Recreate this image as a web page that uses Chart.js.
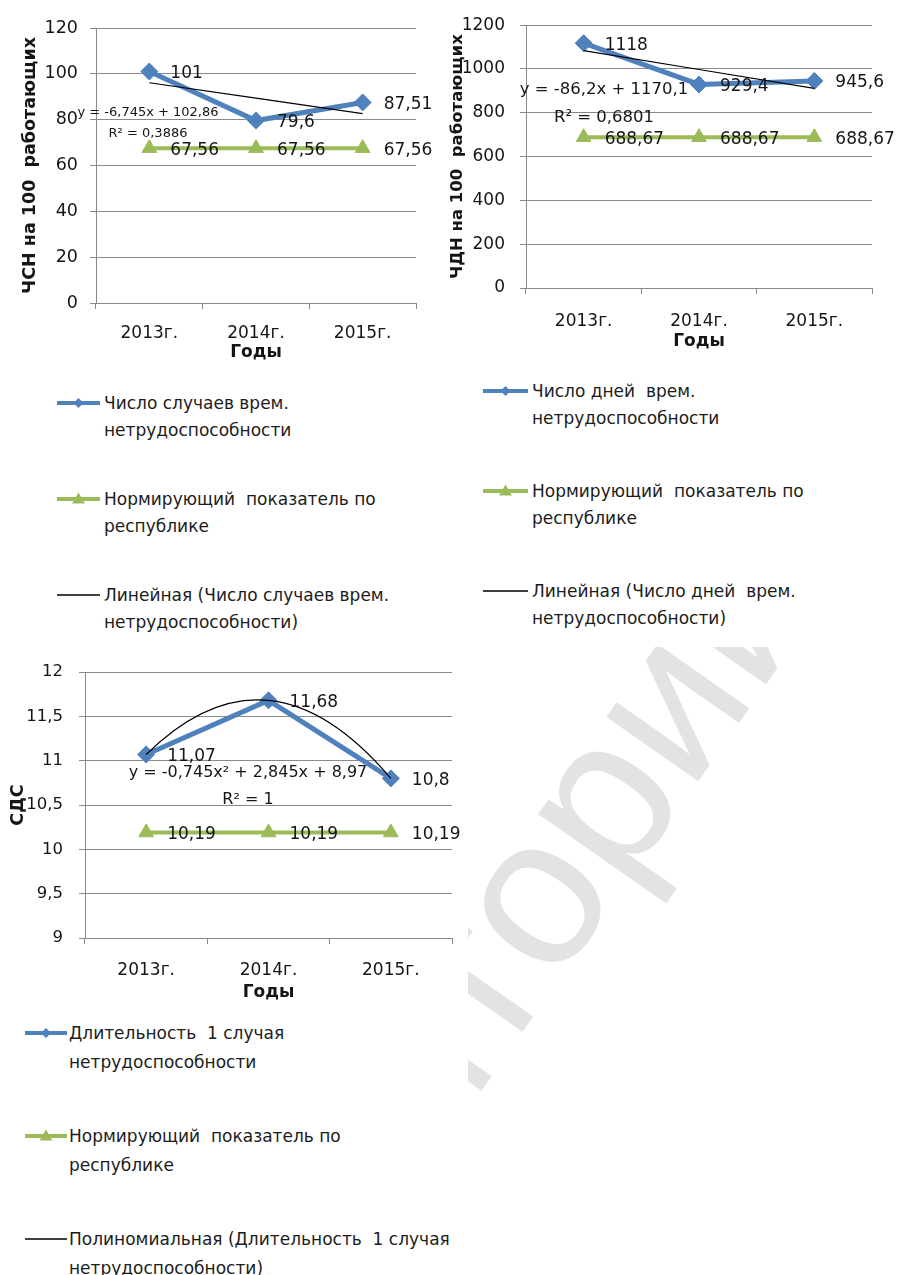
<!DOCTYPE html>
<html>
<head>
<meta charset="utf-8">
<script src="https://cdn.jsdelivr.net/npm/chart.js@4.4.1/dist/chart.umd.min.js"></script>
<style>
html,body{margin:0;padding:0;background:#fff;}
body{width:898px;height:1275px;position:relative;overflow:hidden;font-family:"DejaVu Sans",sans-serif;}
#wm{position:absolute;left:0;top:0;z-index:0;}
.box{position:absolute;background:#fff;z-index:1;}
.box canvas{position:absolute;left:0;top:0;}
.leg{position:absolute;font-size:17px;line-height:27px;color:#1c1c1c;white-space:pre;}
.sym{position:absolute;overflow:visible;}
</style>
</head>
<body>
<svg id="wm" width="898" height="1275"><text id="wmText" fill="#e3e3e3" font-family="Liberation Sans, Arial, sans-serif" font-size="212">Репозиторий</text></svg>

<div class="box" id="box1" style="left:0;top:0;width:440px;height:645px;"><canvas id="c1" width="440" height="370"></canvas></div>
<div class="box" id="box2" style="left:440px;top:0;width:458px;height:647px;"><canvas id="c2" width="458" height="360"></canvas></div>
<div class="box" id="box3" style="left:0;top:640px;width:468px;height:635px;"><canvas id="c3" width="468" height="370"></canvas></div>

<script>
// ---------------- DATA ----------------
const categories = ['2013г.', '2014г.', '2015г.'];

// Chart 1: ЧСН
const chsnCases = [101, 79.6, 87.51];
const chsnNorm = [67.56, 67.56, 67.56];
const chsnTrend = [96.115, 89.37, 82.625];
const chsnTicks = [0, 20, 40, 60, 80, 100, 120];
const chsnNames = [
  ['Число случаев врем.', 'нетрудоспособности'],
  ['Нормирующий  показатель по', 'республике'],
  ['Линейная (Число случаев врем.', 'нетрудоспособности)']
];
const chsnEquation = ['y = -6,745x + 102,86', 'R² = 0,3886'];

// Chart 2: ЧДН
const chdnDays = [1118, 929.4, 945.6];
const chdnNorm = [688.67, 688.67, 688.67];
const chdnTrend = [1083.9, 997.7, 911.5];
const chdnTicks = [0, 200, 400, 600, 800, 1000, 1200];
const chdnNames = [
  ['Число дней  врем.', 'нетрудоспособности'],
  ['Нормирующий  показатель по', 'республике'],
  ['Линейная (Число дней  врем.', 'нетрудоспособности)']
];
const chdnEquation = ['y = -86,2x + 1170,1', 'R² = 0,6801'];

// Chart 3: СДС
const sdsDuration = [11.07, 11.68, 10.8];
const sdsNorm = [10.19, 10.19, 10.19];
const sdsTrend = [11.07, 11.68, 10.8];
const sdsTicks = [9, 9.5, 10, 10.5, 11, 11.5, 12];
const sdsNames = [
  ['Длительность  1 случая', 'нетрудоспособности'],
  ['Нормирующий  показатель по', 'республике'],
  ['Полиномиальная (Длительность  1 случая', 'нетрудоспособности)']
];
const sdsEquation = ['y = -0,745x² + 2,845x + 8,97', 'R² = 1'];

// ---------------- STYLE ----------------
const BLUE = '#4F81BD';
const GREEN = '#9BBB59';
const GRID = '#8a8a8a';
const TEXT = '#151515';
const FAM = '"DejaVu Sans", sans-serif';
const fmt = v => String(v).replace('.', ',');

// value labels + trend equation text
const labelPlugin = {
  id: 'xlabels',
  afterDatasetsDraw(chart, args, opts) {
    const ctx = chart.ctx;
    ctx.save();
    ctx.fillStyle = TEXT;
    ctx.font = opts.font;
    ctx.textAlign = 'left';
    ctx.textBaseline = 'middle';
    chart.data.datasets.forEach((ds, i) => {
      if (!ds.valueLabels) return;
      const meta = chart.getDatasetMeta(i);
      meta.data.forEach((pt, j) => {
        ctx.fillText(fmt(ds.data[j]), pt.x + opts.dx, pt.y + opts.dy);
      });
    });
    const eq = opts.equation;
    ctx.font = eq.font;
    ctx.textAlign = 'center';
    eq.lines.forEach((t, k) => ctx.fillText(t, eq.x, eq.y + k * eq.gap));
    ctx.restore();
  }
};

// polynomial (2nd order) trendline: bezier control points of the parabola through the 3 points
const parabolaPlugin = {
  id: 'parabola',
  beforeDatasetsDraw(chart) {
    chart.data.datasets.forEach((ds, i) => {
      if (!ds.parabolic) return;
      const meta = chart.getDatasetMeta(i);
      const line = meta.dataset;
      line.updateControlPoints(chart.chartArea, 'x');
      const p = meta.data;
      if (p.length !== 3) return;
      const h = p[1].x - p[0].x;
      const y0 = p[0].y, y1 = p[1].y, y2 = p[2].y;
      const s = [(-3 * y0 + 4 * y1 - y2) / (2 * h), (y2 - y0) / (2 * h), (y0 - 4 * y1 + 3 * y2) / (2 * h)];
      p.forEach((pt, j) => {
        pt.cp1x = pt.x - h / 3; pt.cp1y = pt.y - s[j] * h / 3;
        pt.cp2x = pt.x + h / 3; pt.cp2y = pt.y + s[j] * h / 3;
      });
    });
  }
};

function makeChart(id, cfg) {
  const ds = [
    {label: cfg.names[0].join(' '), data: cfg.main, borderColor: BLUE, backgroundColor: BLUE,
     borderWidth: 5, pointStyle: 'rectRot', pointRadius: 8.5, pointBorderWidth: 1,
     pointBackgroundColor: BLUE, pointBorderColor: BLUE, tension: 0, order: 2, valueLabels: true},
    {label: cfg.names[1].join(' '), data: cfg.norm, borderColor: GREEN, backgroundColor: GREEN,
     borderWidth: 4, pointStyle: 'triangle', pointRadius: 8.5, pointBorderWidth: 1,
     pointBackgroundColor: GREEN, pointBorderColor: GREEN, tension: 0, order: 1, valueLabels: true},
    {label: cfg.names[2].join(' '), data: cfg.trend, borderColor: '#000', borderWidth: 1.2,
     pointRadius: 0, tension: cfg.parabolic ? 0.4 : 0, order: 0, parabolic: !!cfg.parabolic}
  ];
  return new Chart(document.getElementById(id), {
    type: 'line',
    data: {labels: categories, datasets: ds},
    plugins: [parabolaPlugin, labelPlugin],
    options: {
      responsive: false,
      animation: false,
      events: [],
      layout: {padding: {top: cfg.padTop, right: cfg.padRight, left: 0, bottom: 0}},
      plugins: {
        legend: {display: false},
        tooltip: {enabled: false},
        xlabels: {font: '17px ' + FAM, dx: 21, dy: 2, equation: cfg.equation}
      },
      scales: {
        x: {
          type: 'category', offset: true,
          grid: {offset: true, drawOnChartArea: false, drawTicks: true, tickLength: 6, color: GRID},
          border: {color: GRID, width: 1},
          ticks: {font: {family: FAM, size: 17}, color: TEXT, padding: cfg.xPad, maxRotation: 0, autoSkip: false},
          title: {display: true, text: 'Годы', color: TEXT,
                  font: {family: FAM, size: 17, weight: 'bold'}, padding: {top: 0, bottom: cfg.xTitlePad}},
          afterFit: s => { s.height = cfg.xHeight; }
        },
        y: {
          min: cfg.ticks[0], max: cfg.ticks[cfg.ticks.length - 1],
          afterBuildTicks: s => { s.ticks = cfg.ticks.map(v => ({value: v})); },
          grid: {color: GRID, drawTicks: true, tickLength: 6},
          border: {color: GRID, width: 1},
          ticks: {font: {family: FAM, size: cfg.yFont}, color: TEXT, padding: cfg.yPad, callback: v => fmt(v)},
          title: {display: true, text: cfg.yTitle, color: TEXT,
                  font: {family: FAM, size: cfg.yTitleSize, weight: 'bold'}, padding: {top: cfg.yTitlePad, bottom: 0}},
          afterFit: s => { s.width = cfg.yWidth; }
        }
      }
    }
  });
}

makeChart('c1', {
  main: chsnCases, norm: chsnNorm, trend: chsnTrend, ticks: chsnTicks, names: chsnNames,
  padTop: 28, padRight: 24, xHeight: 67, yWidth: 96, xPad: 14, yPad: 12, yFont: 17.5, xTitlePad: 7,
  yTitle: 'ЧСН на 100  работающих', yTitleSize: 17.5, yTitlePad: 19.5,
  equation: {lines: chsnEquation, x: 148, y: 113, gap: 21, font: '13px ' + FAM}
});
makeChart('c2', {
  main: chdnDays, norm: chdnNorm, trend: chdnTrend, ticks: chdnTicks, names: chdnNames,
  padTop: 22, padRight: 26, xHeight: 72, yWidth: 86, xPad: 17, yPad: 15, yFont: 17, xTitlePad: 8,
  yTitle: 'ЧДН на 100  работающих', yTitleSize: 16.5, yTitlePad: 8,
  equation: {lines: chdnEquation, x: 164, y: 90, gap: 28, font: '16.5px ' + FAM}
});
makeChart('c3', {
  main: sdsDuration, norm: sdsNorm, trend: sdsTrend, parabolic: true, ticks: sdsTicks, names: sdsNames,
  padTop: 32, padRight: 16, xHeight: 72, yWidth: 85, xPad: 16, yPad: 16, yFont: 16.5, xTitlePad: 7,
  yTitle: 'СДС', yTitleSize: 17.5, yTitlePad: 8,
  equation: {lines: sdsEquation, x: 248, y: 133, gap: 27, font: '16px ' + FAM}
});

// ---------------- LEGENDS (HTML) ----------------
function makeLegend(boxId, names, symX0, symX1, textX, centers, lh) {
  const box = document.getElementById(boxId);
  const kinds = ['diamond', 'triangle', 'line'];
  names.forEach((lines, i) => {
    const cy = centers[i];
    const d = document.createElement('div');
    d.className = 'leg';
    d.style.left = textX + 'px';
    d.style.top = (cy - lh / 2) + 'px';
    d.style.lineHeight = lh + 'px';
    d.textContent = lines.join('\n');
    box.appendChild(d);
    const ns = 'http://www.w3.org/2000/svg';
    const svg = document.createElementNS(ns, 'svg');
    svg.setAttribute('class', 'sym');
    svg.setAttribute('width', symX1 - symX0);
    svg.setAttribute('height', 20);
    svg.style.left = symX0 + 'px';
    svg.style.top = (cy - 10) + 'px';
    const w = symX1 - symX0, m = w / 2;
    const ln = document.createElementNS(ns, 'line');
    ln.setAttribute('x1', 0); ln.setAttribute('x2', w);
    ln.setAttribute('y1', 10); ln.setAttribute('y2', 10);
    const k = kinds[i];
    ln.setAttribute('stroke', k === 'diamond' ? BLUE : k === 'triangle' ? GREEN : '#000');
    ln.setAttribute('stroke-width', k === 'line' ? 1.5 : 4);
    svg.appendChild(ln);
    if (k !== 'line') {
      const p = document.createElementNS(ns, 'polygon');
      const pts = k === 'diamond'
        ? [[m, 5], [m + 5, 10], [m, 15], [m - 5, 10]]
        : [[m, 3.5], [m + 6.5, 14.5], [m - 6.5, 14.5]];
      p.setAttribute('points', pts.map(q => q.join(',')).join(' '));
      p.setAttribute('fill', k === 'diamond' ? BLUE : GREEN);
      svg.appendChild(p);
    }
    box.appendChild(svg);
  });
}
makeLegend('box1', chsnNames, 57, 100, 104, [403, 499, 595], 27);
makeLegend('box2', chdnNames, 43, 88, 92, [391, 491, 591], 27);
makeLegend('box3', sdsNames, 25, 67, 69, [393, 496, 599], 29);

// ---------------- WATERMARK ----------------
(function () {
  const t = document.getElementById('wmText');
  const word = t.textContent;
  const size = 212;
  const c = document.createElement('canvas').getContext('2d');
  c.font = size + 'px "Liberation Sans", Arial, sans-serif';
  const pre = c.measureText(word.slice(0, 8)).width;   // glyph origin of "р"
  const deg = 55, a = deg * Math.PI / 180;
  const ux = Math.cos(a), uy = -Math.sin(a);
  const ax = 622, ay = 890;                              // where "р" starts on the baseline
  const ox = ax - pre * ux, oy = ay - pre * uy;
  t.setAttribute('x', ox.toFixed(1));
  t.setAttribute('y', oy.toFixed(1));
  t.setAttribute('transform', 'rotate(-' + deg + ' ' + ox.toFixed(1) + ' ' + oy.toFixed(1) + ')');
})();
</script>
</body>
</html>
